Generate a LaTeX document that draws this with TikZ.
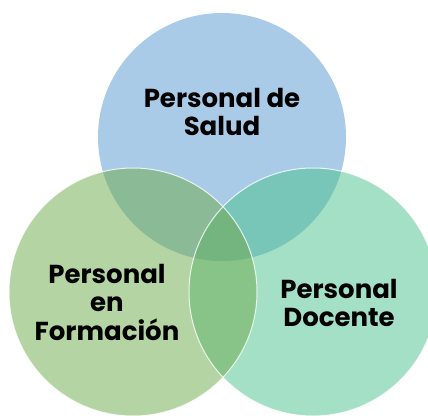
\documentclass[tikz,border=0pt]{standalone}
\usepackage{fontspec}
\setmainfont{Poppins}
\definecolor{cT}{HTML}{AACBE8}
\definecolor{cL}{HTML}{B4D5A3}
\definecolor{cR}{HTML}{A3E0C5}
\definecolor{cTL}{HTML}{8BBA96}
\definecolor{cTR}{HTML}{77C6B8}
\definecolor{cLR}{HTML}{88C488}
\definecolor{cC}{HTML}{74B57F}
\begin{document}
\begin{tikzpicture}[x=1pt,y=-1pt,
  lbl/.style={font=\fontsize{26}{28.5}\selectfont\bfseries, align=center, text=black, inner sep=0pt},
  rim/.style={draw=white, line width=1pt, opacity=0.8}]
\useasboundingbox (0,0) rectangle (428,415);
\def\r{124}
\coordinate (T) at (222,137);
\coordinate (L) at (133,292);
\coordinate (R) at (313,292);
\fill[cT] (T) circle (\r);
\fill[cL] (L) circle (\r);
\fill[cR] (R) circle (\r);
\begin{scope}\clip (T) circle (\r); \fill[cTL] (L) circle (\r);\end{scope}
\begin{scope}\clip (T) circle (\r); \fill[cTR] (R) circle (\r);\end{scope}
\begin{scope}\clip (L) circle (\r); \fill[cLR] (R) circle (\r);\end{scope}
\begin{scope}\clip (T) circle (\r); \clip (L) circle (\r); \fill[cC] (R) circle (\r);\end{scope}
\draw[rim] (L) circle (\r);
\draw[rim] (R) circle (\r);
\node[lbl] (salud) at (222,112) {Personal de\\Salud};
\node[lbl] (formacion) at (107,302) {Personal\\en\\Formación};
\node[lbl] (docente) at (339,303) {Personal\\Docente};
\end{tikzpicture}
\end{document}
